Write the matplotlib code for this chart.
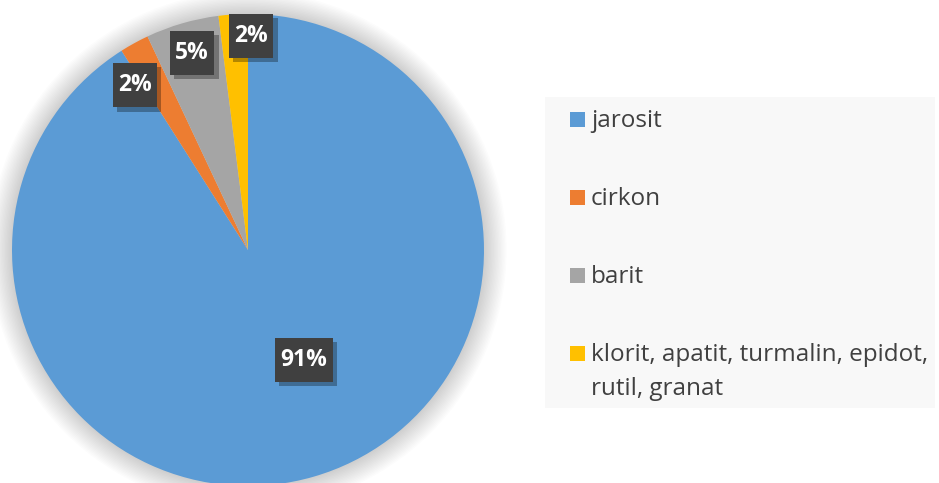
import matplotlib.pyplot as plt
import matplotlib.patheffects as pe
from matplotlib.patches import Circle, Rectangle
from matplotlib.path import Path

minerals = ["jarosit", "cirkon", "barit", "klorit, apatit, turmalin, epidot,\nrutil, granat"]
shares = [91, 2, 5, 2]
pct_labels = ["91%", "2%", "5%", "2%"]
colors = ["#5B9BD5", "#ED7D31", "#A5A5A5", "#FFC000"]

# label box centres, in pie-radius units (placed by hand like Excel's "best fit")
label_xy = [(0.237, -0.466), (-0.479, 0.699), (-0.237, 0.835), (0.013, 0.907)]

W, H = 939, 483
fig = plt.figure(figsize=(W / 100, H / 100), dpi=100)
fig.patch.set_facecolor("white")
plt.rcParams["font.family"] = ["Open Sans", "DejaVu Sans"]


def label_box(x0, y0, width, height, mutation_size):
    # Excel data-label box: more padding top/bottom than left/right
    px, py = 0.24 * mutation_size, 0.45 * mutation_size
    x1, y1 = x0 + width + px, y0 + height + py
    x0, y0 = x0 - px, y0 - py
    return Path([(x0, y0), (x1, y0), (x1, y1), (x0, y1), (x0, y0)], closed=True)


# pie: centre (248, 250) px, radius 236 px
cx, cy, R = 248, 250, 236
lim = 1.15
size = 2 * R * lim
ax = fig.add_axes([(cx - R * lim) / W, (H - cy - R * lim) / H, size / W, size / H])

wedges, _ = ax.pie(shares, colors=colors, startangle=90, counterclock=False,
                   radius=1.0, wedgeprops=dict(linewidth=0))
for w in wedges:
    w.set_zorder(2)
ax.set_xlim(-lim, lim)
ax.set_ylim(-lim, lim)
ax.set_aspect("equal")
ax.axis("off")

# soft glow/shadow around the pie
for i in range(16):
    ax.add_patch(Circle((0, 0), 1.0 + 0.006 * (16 - i), color="black",
                        alpha=0.011, lw=0, zorder=0))

for (lx, ly), txt in zip(label_xy, pct_labels):
    t = ax.text(lx, ly, txt, ha="center", va="center", color="white",
                fontsize=16.5, fontweight="bold", zorder=5,
                bbox=dict(boxstyle=label_box, fc="#404040", ec="none"))
    t.get_bbox_patch().set_path_effects([
        pe.SimplePatchShadow(offset=(3, -3), shadow_rgbFace="black", alpha=0.3),
        pe.Normal()])

# legend drawn by hand so the square sits on the first line of a wrapped label
fig.patches.append(Rectangle((545 / W, 1 - 408 / H), 390 / W, 311 / H,
                             transform=fig.transFigure, fc="#F8F8F8", ec="none"))
rows_top = [112, 190, 268, 346]
for top, name, c in zip(rows_top, minerals, colors):
    fig.patches.append(Rectangle((570 / W, 1 - (top + 15) / H), 15 / W, 15 / H,
                                 transform=fig.transFigure, fc=c, ec="none"))
    for k, line in enumerate(name.split("\n")):
        fig.text(591 / W, 1 - (top + 15 + 34 * k) / H, line, ha="left",
                 va="baseline", fontsize=17.5, color="#404040")

fig.savefig("out.png", dpi=100)
